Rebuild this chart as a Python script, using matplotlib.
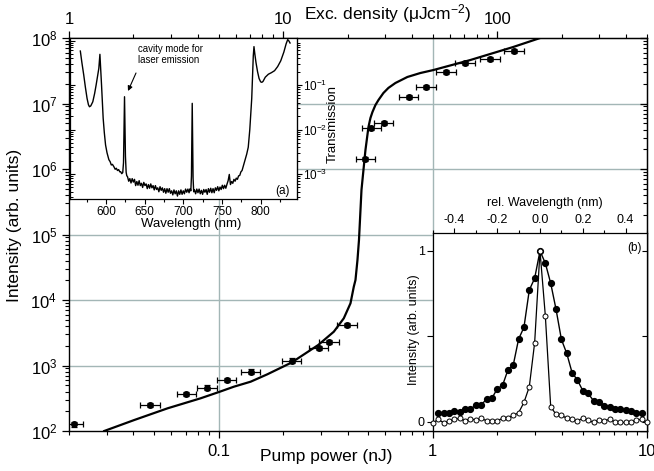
import matplotlib
matplotlib.use('Agg')
import matplotlib.pyplot as plt
from matplotlib.ticker import FixedLocator, NullFormatter, LogLocator, MultipleLocator, FixedFormatter
import numpy as np

plt.rcParams['font.family'] = ['Liberation Sans', 'DejaVu Sans']
plt.rcParams['mathtext.fontset'] = 'custom'
plt.rcParams['mathtext.rm'] = 'Liberation Sans'
plt.rcParams['mathtext.it'] = 'Liberation Sans:italic'
plt.rcParams['mathtext.bf'] = 'Liberation Sans:bold'

# ---------------- data: main plot ----------------
pump_nJ = [0.0210, 0.0478, 0.0707, 0.0882, 0.1090, 0.1410, 0.2190, 0.2925, 0.3268, 0.398,
           0.4845, 0.5168, 0.590, 0.771, 0.929, 1.152, 1.413, 1.849, 2.39]
intensity = [126, 252, 371, 461, 601, 809, 1192, 1850, 2308, 4197,
             1.41e6, 4.23e6, 5.09e6, 1.27e7, 1.77e7, 3.05e7, 4.11e7, 4.78e7, 6.34e7]
pump_err_frac = 0.10
int_err_frac = 0.08

fit_pump = [0.0292, 0.0403, 0.0577, 0.0824, 0.1003, 0.1178, 0.1410, 0.1687, 0.2190, 0.2916,
            0.3448, 0.3838, 0.4125, 0.4274, 0.4352, 0.4446, 0.4519, 0.4568, 0.4642, 0.4742,
            0.4845, 0.5004, 0.5112, 0.5224, 0.5394, 0.5572, 0.5876, 0.6202, 0.6686, 0.7604,
            0.8744, 1.005, 1.496, 2.373, 3.170]
fit_int = [100, 147, 222, 316, 394, 475, 566, 734, 1111, 2056,
           3281, 5255, 8906, 15960, 20200, 40800, 82400, 166500, 478000, 966000,
           1.95e6, 4.38e6, 6.01e6, 7.42e6, 9.48e6, 1.13e7, 1.446e7, 1.73e7, 2.056e7, 2.54e7,
           2.92e7, 3.24e7, 4.61e7, 7.29e7, 1.0e8]

exc_per_nJ = 50.0   # uJ/cm^2 per nJ

x_ticks = [0.1, 1, 10]
x_ticklabels = ['0.1', '1', '10']
top_ticks = [1, 10, 100]
top_ticklabels = ['1', '10', '100']

# ---------------- data: inset (a) transmission spectrum ----------------
wl_left = [567, 569, 571.4, 573.5, 575.7, 577.5, 578.8, 580.5, 583.1, 585.5,
           587.4, 589.3, 590.9, 592.3, 593.2, 594.4, 595.5, 596.5, 598, 599.6,
           601.5, 603.9, 605.5, 607, 608.5, 610.4, 612, 613.5, 615, 616.5,
           618, 619.1, 620.5, 621.8, 622.8, 623.5, 624.1, 624.7, 625.3, 626.2, 627]
T_left = [0.58, 0.32, 0.168, 0.09, 0.050, 0.036, 0.0325, 0.034, 0.042, 0.065,
          0.10, 0.16, 0.237, 0.49, 0.25, 0.10, 0.04, 0.018, 0.0085, 0.0045,
          0.0030, 0.0021, 0.0019, 0.0016, 0.00165, 0.00146, 0.00128, 0.00135, 0.00120, 0.00126,
          0.00112, 0.00113, 0.00102, 0.00108, 0.0018, 0.012, 0.0546, 0.012, 0.0025, 0.0011, 0.00092]

wl_floor1 = [628, 629.5, 631, 632.5, 634, 635.5, 637, 638.5, 640, 641.5, 643, 644.5, 646, 647.5,
             649, 650.5, 652, 653.5, 655, 656.5, 658, 659.5, 661, 662.5, 664, 665.5, 667, 668.5,
             670, 671.5, 673, 674.5, 676, 677.5, 679, 680.5, 682, 683.5, 685, 686.5, 688, 689.5,
             691, 692.5, 694, 695.5, 697, 698.5, 700, 701.5, 703, 704.5, 706, 707.5, 709]
T_floor1_e4 = [8.7, 6.9, 7.9, 6.3, 7.9, 6.6, 7.6, 5.5, 6.8, 5.6,
               7.1, 5.5, 6.2, 5.0, 6.5, 5.5, 6.0, 4.7, 5.8, 4.8,
               6.0, 4.9, 5.5, 4.4, 5.5, 4.5, 4.9, 4.0, 5.2, 4.3,
               4.9, 3.9, 4.7, 3.7, 4.7, 3.9, 4.7, 3.7, 4.2, 3.4,
               4.4, 3.6, 4.2, 3.2, 4.2, 3.5, 4.4, 3.5, 4.2, 3.6,
               4.6, 3.9, 4.6, 3.8, 4.7]

wl_mode2 = [709.8, 710.6, 711.1, 711.6, 712.1, 712.7, 713.5]
T_mode2 = [4.2e-4, 9e-4, 0.006, 0.0388, 0.006, 8e-4, 4e-4]

wl_floor2 = [714.5, 716, 717.5, 719, 720.5, 722, 723.5, 725, 726.5, 728, 729.5, 731, 732.5, 734,
             735.5, 737, 738.5, 740, 741.5, 743, 744.5, 746, 747.5, 749, 750.5, 752, 753.5, 755,
             756.5, 758, 759.5, 761, 762.5, 764, 765.5, 767, 768.5, 770, 771.5, 773, 774.5, 776]
T_floor2_e4 = [4.4, 3.6, 4.6, 3.8, 4.6, 3.6, 4.3, 3.5, 4.5, 3.9,
               4.5, 3.5, 4.7, 3.9, 4.8, 3.8, 4.7, 3.8, 4.9, 4.3,
               5.2, 4.2, 5.1, 4.5, 5.6, 4.7, 5.6, 4.8, 5.9, 7.1,
               9.8, 5.8, 6.8, 6.2, 7.6, 6.9, 8.1, 7.6, 9.1, 9.3,
               11.2, 12.0]

wl_right = [778, 780, 782, 784, 786, 787.5, 788.5, 789.5, 790.5, 791.4,
            792.5, 794, 796, 798, 800, 801.5, 803, 806, 810, 814,
            818, 822, 826, 830, 833, 835, 836.5, 838]
T_right = [0.0016, 0.0021, 0.0028, 0.0040, 0.010, 0.025, 0.05, 0.15, 0.45, 0.73,
           0.50, 0.32, 0.20, 0.14, 0.118, 0.115, 0.12, 0.15, 0.175, 0.19,
           0.21, 0.26, 0.35, 0.55, 0.85, 1.05, 0.98, 0.88]

# ---------------- data: inset (b) line profiles ----------------
rel_wl_filled = [-0.475, -0.45, -0.425, -0.4, -0.375, -0.35, -0.325, -0.3, -0.275, -0.25,
                 -0.225, -0.2, -0.175, -0.15, -0.125, -0.1, -0.075, -0.05, -0.025, 0.0,
                 0.025, 0.05, 0.075, 0.1, 0.125, 0.15, 0.175, 0.2, 0.225, 0.25,
                 0.275, 0.3, 0.325, 0.35, 0.375, 0.4, 0.425, 0.45, 0.475]
int_filled = [0.049, 0.053, 0.053, 0.0625, 0.059, 0.074, 0.072, 0.10, 0.10, 0.131,
              0.137, 0.193, 0.213, 0.303, 0.332, 0.484, 0.553, 0.771, 0.840, 1.0,
              0.928, 0.811, 0.658, 0.482, 0.400, 0.287, 0.244, 0.182, 0.166, 0.123,
              0.113, 0.092, 0.088, 0.076, 0.074, 0.066, 0.064, 0.053, 0.049]
rel_wl_open = [-0.5, -0.475, -0.45, -0.425, -0.4, -0.375, -0.35, -0.325, -0.3, -0.275,
               -0.25, -0.225, -0.2, -0.175, -0.15, -0.125, -0.1, -0.075, -0.05, -0.025,
               0.0, 0.025, 0.05, 0.075, 0.1, 0.125, 0.15, 0.175, 0.2, 0.225,
               0.25, 0.275, 0.3, 0.325, 0.35, 0.375, 0.4, 0.425, 0.45, 0.475, 0.5]
int_open = [-0.006, 0.014, -0.006, 0.004, 0.014, 0.020, 0.006, 0.018, 0.010, 0.020,
            0.006, 0.006, 0.006, 0.020, 0.025, 0.037, 0.053, 0.113, 0.205, 0.463,
            1.0, 0.619, 0.088, 0.043, 0.039, 0.020, 0.014, 0.006, 0.020, 0.010,
            -0.004, 0.010, 0.006, 0.014, 0.0, -0.004, -0.004, -0.004, 0.010, 0.014, -0.004]

# ---------------- figure ----------------
W, H = 654, 471
fig = plt.figure(figsize=(W / 100, H / 100), dpi=100)


def box(l, t, r, b):
    return [l / W, (H - b) / H, (r - l) / W, (b - t) / H]


grid_c = '#a3b6b6'

ax = fig.add_axes(box(69, 38, 647, 431))
ax.set_xscale('log')
ax.set_yscale('log')
ax.set_xlim(0.019995, 10)
ax.set_ylim(1e2, 1e8)
for gx in [0.1, 1]:
    ax.axvline(gx, color=grid_c, lw=1.0, zorder=0)
for gy in [1e3, 1e4, 1e5, 1e6, 1e7]:
    ax.axhline(gy, color=grid_c, lw=1.0, zorder=0)

ax.plot(fit_pump, fit_int, color='black', lw=1.6, zorder=2, solid_joinstyle='round')
px = np.array(pump_nJ)
iy = np.array(intensity)
ax.errorbar(px, iy, xerr=[px * pump_err_frac, px * pump_err_frac * 1.1],
            yerr=[iy * int_err_frac * 0.9, iy * int_err_frac], fmt='o', color='black',
            ms=4.0, elinewidth=0.9, capsize=2.5, capthick=0.9, zorder=3)

ax.xaxis.set_major_locator(FixedLocator(x_ticks))
ax.xaxis.set_major_formatter(FixedFormatter(x_ticklabels))
ax.xaxis.set_minor_locator(LogLocator(base=10, subs=np.arange(2, 10)))
ax.xaxis.set_minor_formatter(NullFormatter())
ax.yaxis.set_minor_locator(LogLocator(base=10, subs=np.arange(2, 10), numticks=20))
ax.yaxis.set_minor_formatter(NullFormatter())
ax.tick_params(axis='both', which='major', direction='out', length=5, width=0.9, labelsize=12)
ax.tick_params(axis='both', which='minor', direction='out', length=3, width=0.8)
ax.tick_params(axis='x', pad=4)
for s in ax.spines.values():
    s.set_linewidth(1.0)

# right inward ticks
sec_r = ax.secondary_yaxis('right')
sec_r.yaxis.set_minor_locator(LogLocator(base=10, subs=np.arange(2, 10), numticks=20))
sec_r.tick_params(axis='y', which='major', direction='in', length=5, width=0.9, labelright=False)
sec_r.tick_params(axis='y', which='minor', direction='in', length=3, width=0.8)
sec_r.yaxis.set_minor_formatter(NullFormatter())

# top axis: excitation density
sec_t = ax.secondary_xaxis('top', functions=(lambda x: x * exc_per_nJ, lambda x: x / exc_per_nJ))
sec_t.xaxis.set_major_locator(FixedLocator(top_ticks))
sec_t.xaxis.set_major_formatter(FixedFormatter(top_ticklabels))
sec_t.xaxis.set_minor_locator(LogLocator(base=10, subs=np.arange(2, 10), numticks=20))
sec_t.xaxis.set_minor_formatter(NullFormatter())
sec_t.tick_params(axis='x', which='major', direction='out', length=5, width=0.9, labelsize=12, pad=3)
sec_t.tick_params(axis='x', which='minor', direction='out', length=3, width=0.8)

fig.text(388 / W, 1 - 14 / H, r'Exc. density ($\mathregular{\mu}$Jcm$^{-2}$)', fontsize=12.5,
         ha='center', va='center')
fig.text(326 / W, 1 - 456 / H, 'Pump power (nJ)', fontsize=12.5, ha='center', va='center')
fig.text(15 / W, 1 - 225 / H, 'Intensity (arb. units)', fontsize=12.5, ha='center', va='center',
         rotation=90)

# ---------------- inset (a) ----------------
axa = fig.add_axes(box(69.5, 38, 297, 199))
axa.set_facecolor('white')
axa.set_yscale('log')
axa.set_xlim(553, 847)
axa.set_ylim(2.75e-4, 1.14)
spec_wl = wl_left + wl_floor1 + wl_mode2 + wl_floor2 + wl_right
spec_T = T_left + [v * 1e-4 for v in T_floor1_e4] + T_mode2 + [v * 1e-4 for v in T_floor2_e4] + T_right
axa.plot(spec_wl, spec_T, color='black', lw=1.0)
axa.xaxis.set_major_locator(MultipleLocator(50))
axa.xaxis.set_minor_locator(MultipleLocator(25))
axa.tick_params(axis='x', which='major', direction='out', length=3.5, width=0.8, labelsize=8.5, pad=1.5,
                top=False)
axa.tick_params(axis='x', which='minor', direction='out', length=2.5, width=0.8, top=False)
axa.yaxis.set_minor_locator(LogLocator(base=10, subs=np.arange(2, 10), numticks=20))
axa.tick_params(axis='y', which='both', direction='in', left=True, right=False, labelleft=False)
axa.tick_params(axis='y', which='major', length=3.5, width=0.8)
axa.tick_params(axis='y', which='minor', length=2, width=0.7)
for s in axa.spines.values():
    s.set_linewidth(0.9)

sec_a = axa.secondary_yaxis('right')
sec_a.yaxis.set_major_locator(FixedLocator([1e-3, 1e-2, 1e-1]))
sec_a.yaxis.set_minor_locator(LogLocator(base=10, subs=np.arange(2, 10), numticks=20))
sec_a.yaxis.set_minor_formatter(NullFormatter())
sec_a.tick_params(axis='y', which='major', direction='out', length=3.5, width=0.8, labelsize=8.5, pad=1)
sec_a.tick_params(axis='y', which='minor', direction='out', length=2, width=0.7)

fig.text(191 / W, 1 - 224 / H, 'Wavelength (nm)', fontsize=9.5, ha='center', va='center')
fig.text(333 / W, 1 - 124 / H, 'Transmission', fontsize=9.5, ha='center', va='center', rotation=90)
fig.text(282.5 / W, 1 - 191 / H, '(a)', fontsize=8.5, ha='center', va='center')
fig.text(138 / W, 1 - 44 / H, 'cavity mode for\nlaser emission', fontsize=6.9, ha='left', va='top',
         linespacing=1.1)
fig.add_artist(matplotlib.patches.FancyArrowPatch(
    posA=(136 / W, 1 - 73 / H), posB=(128 / W, 1 - 91 / H), transform=fig.transFigure,
    arrowstyle='-|>', mutation_scale=7, lw=0.8, color='black', shrinkA=0, shrinkB=0))

# ---------------- inset (b) ----------------
axb = fig.add_axes(box(433, 233, 647, 431))
axb.set_facecolor('white')
axb.set_xlim(-0.5, 0.5)
axb.set_ylim(-0.054, 1.105)
axb.plot(rel_wl_filled, int_filled, '-o', color='black', lw=1.0, ms=4.2, mfc='black', mec='black',
         zorder=2)
axb.plot(rel_wl_open, int_open, '-o', color='black', lw=0.9, ms=3.6, mfc='white', mec='black',
         mew=0.7, zorder=3, clip_on=False)
axb.xaxis.tick_top()
axb.xaxis.set_major_locator(FixedLocator([-0.4, -0.2, 0.0, 0.2, 0.4]))
axb.xaxis.set_major_formatter(FixedFormatter(['-0.4', '-0.2', '0.0', '0.2', '0.4']))
axb.xaxis.set_minor_locator(MultipleLocator(0.1))
axb.tick_params(axis='x', which='major', direction='out', length=3.5, width=0.8, labelsize=9, pad=1.5)
axb.tick_params(axis='x', which='minor', direction='out', length=2.5, width=0.8)
axb.yaxis.set_major_locator(FixedLocator([0, 0.5, 1]))
axb.yaxis.set_major_formatter(FixedFormatter(['0', '', '1']))
axb.tick_params(axis='y', which='major', direction='out', length=4, width=0.8, labelsize=9, pad=2)
for s in axb.spines.values():
    s.set_linewidth(0.9)
sec_b = axb.secondary_yaxis('right')
sec_b.yaxis.set_major_locator(FixedLocator([0, 0.5, 1]))
sec_b.tick_params(axis='y', direction='in', length=3.5, width=0.8, labelright=False)

fig.text(545 / W, 1 - 203 / H, 'rel. Wavelength (nm)', fontsize=9, ha='center', va='center')
fig.text(414 / W, 1 - 330 / H, 'Intensity (arb. units)', fontsize=9, ha='center', va='center',
         rotation=90)
fig.text(634.5 / W, 1 - 247.5 / H, '(b)', fontsize=8.5, ha='center', va='center')

fig.savefig('out.png', dpi=100)
